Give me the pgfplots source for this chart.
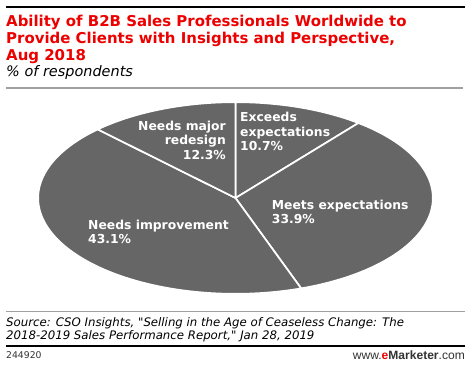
\documentclass[border=0pt]{standalone}
\usepackage{pgfplots}
\pgfplotsset{compat=1.18}
\usepackage{pgfplotstable}
\usepackage{fontspec}
\setmainfont{DejaVu Sans}
\newfontfamily\arialfont{Liberation Sans}
\definecolor{emred}{RGB}{236,0,0}
\definecolor{piegray}{RGB}{102,102,102}
\definecolor{rulegray}{RGB}{160,160,160}

\pgfplotstableread{
label value
Exceeds 10.7
Meets 33.9
Improvement 43.1
Redesign 12.3
}\piedata

\newcommand\titlefont{\bfseries\fontsize{15}{17}\selectfont}
\newcommand\labfont{\bfseries\fontsize{12.4}{14.5}\selectfont}
\newcommand\srcfont{\itshape\fontsize{11.8}{13}\selectfont}
\newcommand\q{{\addfontfeatures{Ligatures=TeXOff}"}}

\begin{document}
\begin{tikzpicture}[x=1bp,y=1bp]
\pgfplotstablegetelem{0}{value}\of\piedata \let\vA\pgfplotsretval
\pgfplotstablegetelem{1}{value}\of\piedata \let\vB\pgfplotsretval
\pgfplotstablegetelem{2}{value}\of\piedata \let\vC\pgfplotsretval
\pgfplotstablegetelem{3}{value}\of\piedata \let\vD\pgfplotsretval
\pgfmathsetmacro\angA{90}
\pgfmathsetmacro\angB{90-3.6*\vA}
\pgfmathsetmacro\angC{90-3.6*(\vA+\vB)}
\pgfmathsetmacro\angD{90-3.6*(\vA+\vB+\vC)}
\pgfmathsetmacro\angE{90-3.6*(\vA+\vB+\vC+\vD)}
\fill[white] (0,0) rectangle (470,368);
% top rule
\draw[black, line width=2.2bp] (6,361) -- (465,361);
% title
\node[anchor=base west, inner sep=0, text=emred, font=\titlefont] at (6,342) {Ability of B2B Sales Professionals Worldwide to};
\node[anchor=base west, inner sep=0, text=emred, font=\titlefont] at (6,325) {Provide Clients with Insights and Perspective,};
\node[anchor=base west, inner sep=0, text=emred, font=\titlefont] at (6,308) {Aug 2018};
\node[anchor=base west, inner sep=0, font=\itshape\fontsize{14.5}{17}\selectfont] at (6,291.5) {\% of respondents};
\draw[rulegray, line width=1.5bp] (6,280) -- (463,280);

\begin{axis}[at={(235.5bp,170bp)}, anchor=center, scale only axis,
  width=394.7bp, height=191.7bp, xmin=-1, xmax=1, ymin=-1, ymax=1,
  hide axis, clip=false]
\addplot[fill=piegray, draw=white, line width=1.7bp, line join=round, domain=\angB:\angA, samples=60, variable=\t] ({cos(t)},{sin(t)}) -- (0,0) -- cycle;
\addplot[fill=piegray, draw=white, line width=1.7bp, line join=round, domain=\angC:\angB, samples=80, variable=\t] ({cos(t)},{sin(t)}) -- (0,0) -- cycle;
\addplot[fill=piegray, draw=white, line width=1.7bp, line join=round, domain=\angD:\angC, samples=100, variable=\t] ({cos(t)},{sin(t)}) -- (0,0) -- cycle;
\addplot[fill=piegray, draw=white, line width=1.7bp, line join=round, domain=\angE:\angD, samples=60, variable=\t] ({cos(t)},{sin(t)}) -- (0,0) -- cycle;
\end{axis}

% slice labels
\node[anchor=base west, inner sep=0, text=white, font=\labfont] at (240,246.3) {Exceeds};
\node[anchor=base west, inner sep=0, text=white, font=\labfont] at (240,232) {expectations};
\node[anchor=base west, inner sep=0, text=white, font=\labfont] at (240,217.5) {10.7\%};

\node[anchor=base east, inner sep=0, text=white, font=\labfont] at (226,238) {Needs major};
\node[anchor=base east, inner sep=0, text=white, font=\labfont] at (226,223.5) {redesign};
\node[anchor=base east, inner sep=0, text=white, font=\labfont] at (226,209) {12.3\%};

\node[anchor=base west, inner sep=0, text=white, font=\labfont] at (88,139) {Needs improvement};
\node[anchor=base west, inner sep=0, text=white, font=\labfont] at (88,124.5) {43.1\%};

\node[anchor=base west, inner sep=0, text=white, font=\labfont] at (271.7,159) {Meets expectations};
\node[anchor=base west, inner sep=0, text=white, font=\labfont] at (271.7,144.5) {33.9\%};

% source
\draw[rulegray, line width=1.5bp] (6,56.5) -- (465,56.5);
\node[anchor=base west, inner sep=0, font=\srcfont] at (6,42) {Source: CSO Insights, \q Selling in the Age of Ceaseless Change: The};
\node[anchor=base west, inner sep=0, font=\srcfont] at (6,29) {2018-2019 Sales Performance Report,\q{} Jan 28, 2019};
\draw[black, line width=2.4bp] (6,22.3) -- (465,22.3);
\node[anchor=base west, inner sep=0, text={rgb,255:red,51;green,51;blue,51}, font=\fontsize{9.3}{11}\selectfont] at (6,9.5) {244920};
\node[anchor=base east, inner sep=0, text={rgb,255:red,51;green,51;blue,51}, font=\arialfont\fontsize{12.1}{13}\selectfont] at (465,8.5) {www.{\bfseries\textcolor{emred}{e}Marketer}.com};
\pgfresetboundingbox
\useasboundingbox (0,0) rectangle (470,368);
\end{tikzpicture}
\end{document}
